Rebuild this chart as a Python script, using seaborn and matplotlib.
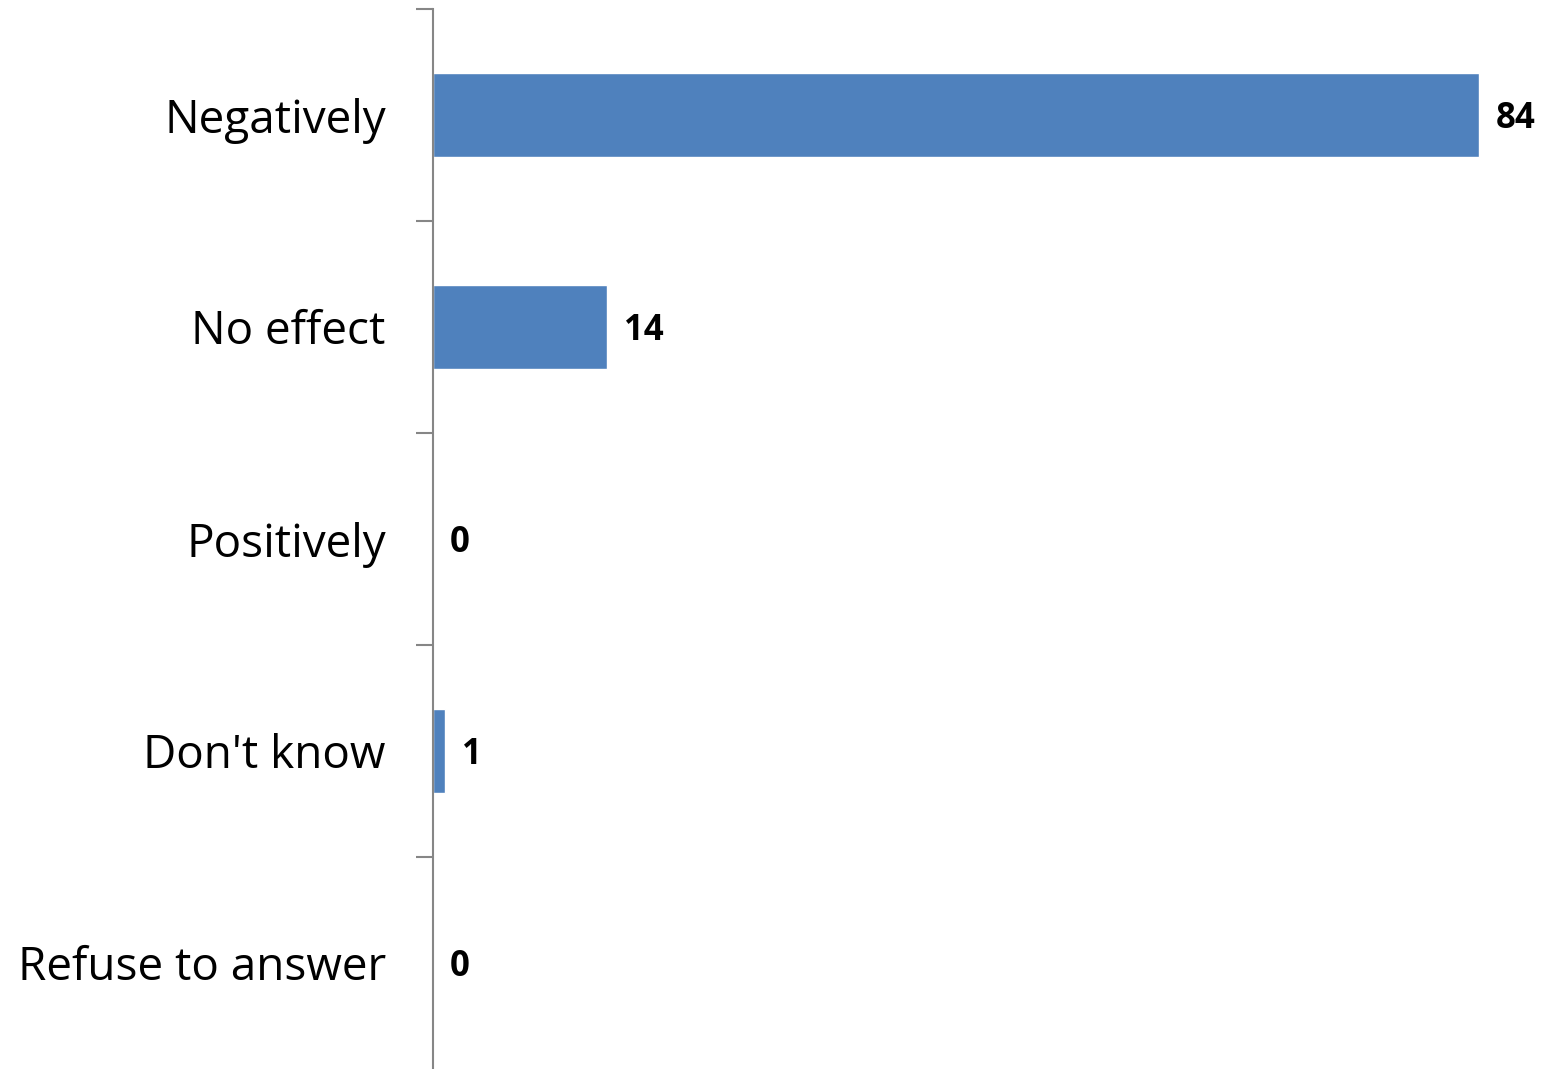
import matplotlib.pyplot as plt
import seaborn as sns
import pandas as pd

categories = ['Negatively', 'No effect', 'Positively', "Don't know", 'Refuse to answer']
values = [84, 14, 0, 1, 0]

df = pd.DataFrame({'category': categories, 'value': values})

sns.set_style('white')
plt.rcParams['font.family'] = ['Open Sans', 'DejaVu Sans']

fig = plt.figure(figsize=(15.47, 10.69), dpi=100)
ax = fig.add_axes([433 / 1547, 0.0, 1 - 433 / 1547, 1 - 9 / 1069])

sns.barplot(data=df, x='value', y='category', orient='h', color='#4F81BD',
            width=0.4, saturation=1, ax=ax)

ax.set_xlim(0, (1547 - 433) / 12.45)
ax.set_ylim(len(categories) - 0.5, -0.5)
ax.set_xlabel('')
ax.set_ylabel('')
ax.set_xticks([])

for spine in ['top', 'right', 'bottom']:
    ax.spines[spine].set_visible(False)
ax.spines['left'].set_color('#868686')
ax.spines['left'].set_linewidth(1.5)

# ticks sit between categories
ax.set_yticks([i - 0.5 for i in range(len(categories))], minor=False)
ax.set_yticklabels([])
ax.tick_params(axis='y', which='major', left=True, length=12, width=1.5,
               color='#868686', direction='out')
ax.set_yticks(range(len(categories)), minor=True)
ax.set_yticklabels(categories, minor=True)
ax.tick_params(axis='y', which='minor', left=True, length=0, pad=34,
               labelsize=33, labelcolor='black')

for i, v in enumerate(values):
    ax.text(v + 1.35, i, str(v), va='center_baseline', ha='left', fontsize=25,
            fontweight='bold', color='black')

fig.savefig('out.png', dpi=100)
plt.close(fig)
